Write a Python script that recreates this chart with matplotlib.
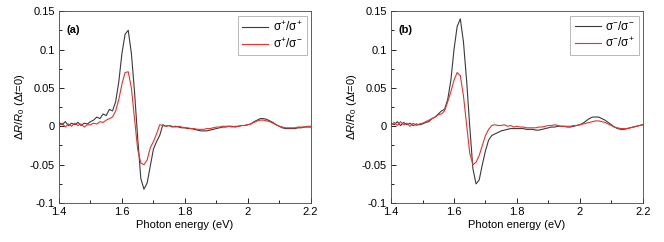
import numpy as np
import matplotlib
matplotlib.use("Agg")
import matplotlib.pyplot as plt
from matplotlib.ticker import MultipleLocator

plt.rcParams['font.family'] = ['Liberation Sans', 'DejaVu Sans']
plt.rcParams['mathtext.fontset'] = 'custom'
plt.rcParams['mathtext.rm'] = 'Liberation Sans'
plt.rcParams['mathtext.it'] = 'Liberation Sans:italic'
plt.rcParams['mathtext.bf'] = 'Liberation Sans:bold'

# photon energy grid, 1.40 ... 2.20 eV
energy = np.round(np.arange(1.40, 2.2001, 0.01), 2)

# panel (a)
a_same = [0.005, 0.002, 0.006, 0.001, 0.004, 0.002, 0.005, 0.001, 0.004, 0.003,
          0.006, 0.008, 0.012, 0.010, 0.016, 0.014, 0.022, 0.020, 0.032, 0.058,
          0.095, 0.120, 0.125, 0.095, 0.045, -0.015, -0.068, -0.082, -0.074, -0.052,
          -0.030, -0.020, -0.012, 0.002, 0.000, 0.001, -0.001, 0.000, -0.001, -0.002,
          -0.002, -0.003, -0.003, -0.004, -0.005, -0.006, -0.006, -0.006, -0.005, -0.004,
          -0.003, -0.002, -0.001, -0.001, 0.000, 0.000, -0.001, 0.000, 0.001, 0.001,
          0.002, 0.003, 0.006, 0.008, 0.010, 0.010, 0.009, 0.007, 0.005, 0.002,
          0.000, -0.002, -0.003, -0.003, -0.003, -0.003, -0.002, -0.002, -0.001, -0.001,
          -0.001]
a_opp = [0.001, 0.004, -0.001, 0.003, 0.000, 0.004, 0.001, 0.003, -0.001, 0.002,
         0.002, 0.004, 0.003, 0.006, 0.005, 0.008, 0.010, 0.012, 0.020, 0.035,
         0.055, 0.070, 0.071, 0.050, 0.010, -0.030, -0.048, -0.050, -0.044, -0.028,
         -0.020, -0.010, 0.002, 0.001, 0.000, 0.001, 0.000, -0.001, 0.000, -0.001,
         -0.002, -0.002, -0.003, -0.003, -0.004, -0.004, -0.004, -0.003, -0.003, -0.002,
         -0.001, -0.001, 0.000, 0.000, 0.000, -0.001, 0.000, 0.000, 0.001, 0.001,
         0.002, 0.003, 0.005, 0.007, 0.008, 0.008, 0.007, 0.006, 0.004, 0.002,
         0.000, -0.001, -0.002, -0.002, -0.002, -0.002, -0.001, -0.001, -0.001, 0.000,
         0.000]

# panel (b)
b_same = [0.004, 0.002, 0.006, 0.001, 0.005, 0.002, 0.004, 0.001, 0.003, 0.002,
          0.003, 0.005, 0.006, 0.010, 0.012, 0.016, 0.020, 0.022, 0.035, 0.060,
          0.100, 0.130, 0.140, 0.110, 0.060, 0.000, -0.055, -0.075, -0.070, -0.050,
          -0.032, -0.018, -0.012, -0.010, -0.008, -0.006, -0.005, -0.004, -0.003, -0.003,
          -0.003, -0.003, -0.003, -0.004, -0.004, -0.004, -0.005, -0.005, -0.004, -0.003,
          -0.002, -0.001, -0.001, 0.000, 0.000, 0.000, -0.001, -0.001, 0.000, 0.001,
          0.002, 0.004, 0.007, 0.010, 0.012, 0.012, 0.012, 0.010, 0.008, 0.005,
          0.002, -0.001, -0.003, -0.004, -0.004, -0.003, -0.002, -0.001, 0.000, 0.001,
          0.002]
b_opp = [0.002, 0.005, 0.001, 0.006, 0.002, 0.004, 0.000, 0.004, 0.001, 0.003,
         0.004, 0.006, 0.008, 0.010, 0.012, 0.015, 0.016, 0.020, 0.032, 0.045,
         0.060, 0.070, 0.066, 0.040, 0.002, -0.035, -0.050, -0.047, -0.038, -0.025,
         -0.012, -0.004, 0.001, 0.002, 0.001, 0.001, 0.002, 0.000, 0.001, -0.001,
         0.000, -0.001, -0.001, -0.002, -0.002, -0.002, -0.002, -0.001, -0.001, 0.000,
         0.001, 0.001, 0.002, 0.001, 0.000, 0.000, 0.000, 0.000, 0.001, 0.001,
         0.002, 0.003, 0.004, 0.005, 0.006, 0.007, 0.007, 0.006, 0.005, 0.003,
         0.001, -0.001, -0.002, -0.003, -0.003, -0.003, -0.002, -0.001, 0.000, 0.001,
         0.002]

panels = [('(a)', a_same, a_opp, 'σ$^{+}$/σ$^{+}$', 'σ$^{+}$/σ$^{-}$'),
          ('(b)', b_same, b_opp, 'σ$^{-}$/σ$^{-}$', 'σ$^{-}$/σ$^{+}$')]

fig = plt.figure(figsize=(6.64, 2.42), dpi=100)
lefts = [0.0889, 0.589]

for left, (tag, same, opp, lab1, lab2) in zip(lefts, panels):
    ax = fig.add_axes([left, 0.161, 0.379, 0.793])
    ax.plot(energy, same, color='#3a3a3a', lw=0.8, label=lab1)
    ax.plot(energy, opp, color='#e8322c', lw=0.8, label=lab2)
    ax.set_xlim(1.4, 2.2)
    ax.set_ylim(-0.1, 0.15)
    ax.xaxis.set_minor_locator(MultipleLocator(0.1))
    ax.yaxis.set_minor_locator(MultipleLocator(0.025))
    ax.set_xticks([1.4, 1.6, 1.8, 2.0, 2.2])
    ax.set_xticklabels(['1.4', '1.6', '1.8', '2', '2.2'])
    ax.set_yticks([-0.1, -0.05, 0, 0.05, 0.1, 0.15])
    ax.set_yticklabels(['-0.1', '-0.05', '0', '0.05', '0.1', '0.15'])
    ax.tick_params(which='both', direction='in', labelsize=8, width=0.6,
                   top=False, right=False, pad=3)
    ax.tick_params(which='major', length=3.5)
    ax.tick_params(which='minor', length=2)
    for sp in ax.spines.values():
        sp.set_linewidth(0.6)
        sp.set_color('#444444')
    ax.set_xlabel('Photon energy (eV)', fontsize=8, labelpad=2)
    ax.set_ylabel(r'$\Delta R/R_0$ ($\Delta t$=0)', fontsize=8, labelpad=2)
    ax.text(0.03, 0.93, tag, transform=ax.transAxes, fontsize=8,
            fontweight='bold', va='top', ha='left')
    leg = ax.legend(loc='upper right', bbox_to_anchor=(0.985, 0.975),
                    fontsize=8.5, frameon=True, fancybox=False,
                    handlelength=2.2, handletextpad=0.4, borderpad=0.35,
                    labelspacing=0.3, borderaxespad=0)
    leg.get_frame().set_edgecolor('#999999')
    leg.get_frame().set_linewidth(0.6)

fig.savefig('out.png', dpi=100)
